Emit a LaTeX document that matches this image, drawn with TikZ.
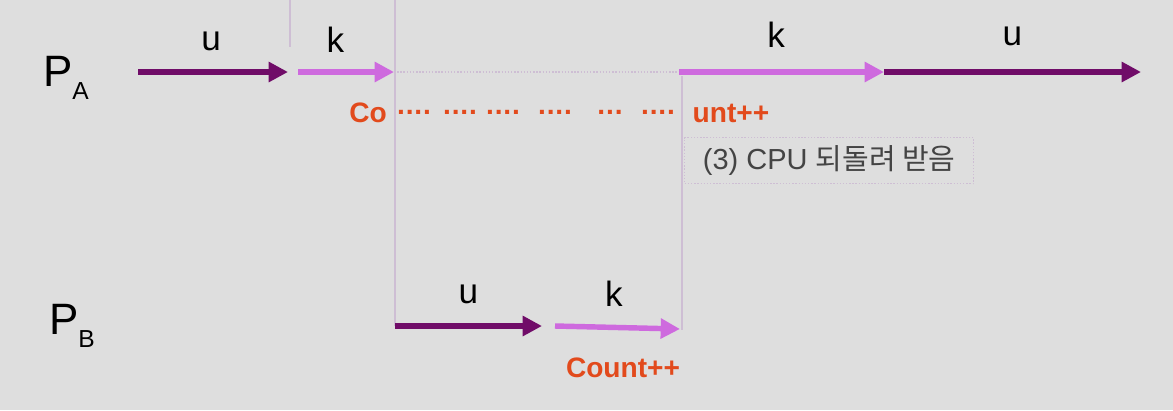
\documentclass[tikz,border=0pt]{standalone}
\usepackage{fontspec}
\setmainfont{Liberation Sans}
\newfontfamily\krfont{Noto Sans CJK KR}
\usetikzlibrary{arrows.meta,positioning}
\definecolor{bggray}{RGB}{222,222,222}
\definecolor{userpurple}{RGB}{112,12,104}
\definecolor{kernviolet}{RGB}{206,106,222}
\definecolor{countred}{RGB}{226,74,28}
\definecolor{guideline}{RGB}{206,190,212}
\definecolor{notegray}{RGB}{68,68,68}
\newcommand\dotsfour{.\kern0.5pt.\kern0.5pt.\kern0.5pt.}
\newcommand\dotsthree{.\kern0.5pt.\kern0.5pt.}

\tikzset{
  umode/.style={line width=3.1pt,userpurple,-{Triangle[length=11pt,width=11pt]}},
  kmode/.style={line width=3.1pt,kernviolet,-{Triangle[length=11pt,width=11pt]}},
  guide/.style={guideline,line width=0.8pt},
  modelbl/.style={text=black,font=\fontsize{20}{24}\selectfont},
  proclbl/.style={font=\fontsize{25}{30}\selectfont},
  cnt/.style={countred,font=\fontsize{16}{19}\selectfont\bfseries}
}

\begin{document}
\begin{tikzpicture}[x=0.02cm,y=-0.02cm]
  \fill[bggray] (0,0) rectangle (1173,410);
  \useasboundingbox (0,0) rectangle (1173,410);

  % time points
  \coordinate (a0) at (138,72);
  \coordinate (a1) at (288,72);
  \coordinate (a2) at (298,72);
  \coordinate (a3) at (394,72);
  \coordinate (a4) at (679,72);
  \coordinate (a5) at (884,72);
  \coordinate (a6) at (1141,72);
  \coordinate (b0) at (395,326);
  \coordinate (b1) at (542,326);
  \coordinate (b2) at (555,326);
  \coordinate (b3) at (680,329);

  % guide lines
  \draw[guide] (290,0) -- (290,47);
  \draw[guide] (395,0) -- (b0);
  \draw[guide] (682,76) -- (682,330);
  \draw[guide,densely dotted] (a3) -- (a4);

  % process labels
  \node[proclbl] (pa) at (66,78) {P\raisebox{-0.3em}{\fontsize{14}{16}\selectfont A}};
  \node[proclbl] (pb) at (72,326) {P\raisebox{-0.3em}{\fontsize{14}{16}\selectfont B}};

  % P_A
  \draw[umode] (a0) -- (a1) node[midway,above=7pt,modelbl,xshift=-1pt] {u};
  \draw[kmode] (a2) -- (a3) node[midway,above=6pt,modelbl,xshift=-6pt] {k};
  \draw[kmode] (a4) -- (a5) node[midway,above=9pt,modelbl,xshift=-3pt] {k};
  \draw[umode] (a5) -- (a6) node[midway,above=10pt,modelbl] {u};

  % P_B
  \draw[umode] (b0) -- (b1) node[midway,above=8pt,modelbl] {u};
  \draw[kmode] (b2) -- (b3) node[midway,above=7pt,modelbl,xshift=-2pt] {k};

  % count++
  \node[cnt] (co) at (368,113) {Co};
  \foreach \x/\d in {414/\dotsfour,460/\dotsfour,503/\dotsfour,555/\dotsfour,610/\dotsthree,658/\dotsfour}
    \node[cnt] at (\x,112) {\d};
  \node[cnt] (unt) at (731,113) {unt++};
  \node[cnt] (count) at (623,368) {Count++};

  \node[draw=guideline,densely dotted,line width=0.8pt,anchor=north west,
        minimum width=289*0.02cm,minimum height=46*0.02cm,inner sep=0pt,
        text=notegray,font=\fontsize{16.5}{20}\selectfont] (note) at (684,137)
        {(3) CPU {\krfont 되돌려 받음}};
\end{tikzpicture}
\end{document}
